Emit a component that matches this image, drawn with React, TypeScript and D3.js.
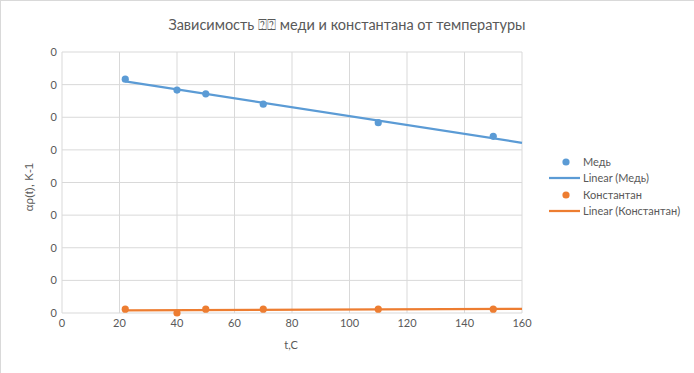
import React from "react";
import * as d3 from "d3";

const temperatures = [22, 40, 50, 70, 110, 150];
const copperAlpha = [0.0043, 0.0041, 0.00403, 0.00384, 0.0035, 0.00325];
const constantanAlpha = [0.00007, 0.0, 0.00007, 0.00007, 0.00007, 0.00007];
const xTicks = [0, 20, 40, 60, 80, 100, 120, 140, 160];
const yTicks = [0, 0.0006, 0.0012, 0.0018, 0.0024, 0.003, 0.0036, 0.0042, 0.0048];
const seriesNames = ["Медь", "Константан"];
const titleText = "Зависимость ⍰⍰ меди и константана от температуры";
const xLabel = "t,C";
const yLabel = "αρ(t), K-1";

const W = 694;
const H = 373;
const FONT = "Lato, 'Open Sans', sans-serif";
const TXT = "#595959";
const GRID = "#d9d9d9";
const COLORS = ["#5b9bd5", "#ed7d31"];

function fit(xs: number[], ys: number[]) {
  const n = xs.length;
  const mx = d3.mean(xs)!;
  const my = d3.mean(ys)!;
  let sxy = 0, sxx = 0;
  for (let i = 0; i < n; i++) {
    sxy += (xs[i] - mx) * (ys[i] - my);
    sxx += (xs[i] - mx) * (xs[i] - mx);
  }
  const b = sxy / sxx;
  return { a: my - b * mx, b };
}

export default function App() {
  const x = d3.scaleLinear().domain([0, 160]).range([62, 522]);
  const y = d3.scaleLinear().domain([0, 0.0048]).range([313, 52]);
  const fmt = d3.format(".0f");
  const series = [copperAlpha, constantanAlpha];

  return (
    <div style={{ position: "absolute", left: 0, top: 0 }}>
      <svg width={W} height={H} style={{ display: "block", fontFamily: FONT }}>
        <rect x={0.5} y={0.5} width={W + 10} height={H + 10} fill="#fff" stroke={GRID} />
        <text x={347} y={30} textAnchor="middle" fontSize={14.5} fill={TXT}>{titleText}</text>
        {yTicks.map((t, i) => (
          <g key={"y" + i}>
            <line x1={62} x2={522} y1={y(t)} y2={y(t)} stroke={GRID} strokeWidth={1} />
            <text x={57} y={y(t) + 4} textAnchor="end" fontSize={11} fill={TXT}>{fmt(t)}</text>
          </g>
        ))}
        {xTicks.map((t, i) => (
          <g key={"x" + i}>
            <line x1={x(t)} x2={x(t)} y1={52} y2={313} stroke={GRID} strokeWidth={1} />
            <text x={x(t)} y={327} textAnchor="middle" fontSize={11} fill={TXT}>{t}</text>
          </g>
        ))}
        <text x={291} y={349} textAnchor="middle" fontSize={11} fill={TXT}>{xLabel}</text>
        <text transform={`translate(33,${187}) rotate(-90)`} textAnchor="middle" fontSize={11.5} fill={TXT} fontFamily="'Liberation Sans', Arial, sans-serif">{yLabel}</text>
        {series.map((vals, si) => {
          const { a, b } = fit(temperatures, vals);
          const x0 = temperatures[0];
          const x1 = 160;
          return (
            <g key={"s" + si}>
              <line x1={x(x0)} y1={y(a + b * x0)} x2={x(x1)} y2={y(a + b * x1)} stroke={COLORS[si]} strokeWidth={2.25} />
              {vals.map((v, i) => (
                <circle key={i} cx={x(temperatures[i])} cy={y(v)} r={3.6} fill={COLORS[si]} />
              ))}
            </g>
          );
        })}
        {seriesNames.map((name, si) => (
          <g key={"l" + si} transform={`translate(0,${si * 33})`}>
            <circle cx={566} cy={162} r={3.6} fill={COLORS[si]} />
            <text x={583} y={166} fontSize={11} fill={TXT}>{name}</text>
            <line x1={549} x2={580} y1={178} y2={178} stroke={COLORS[si]} strokeWidth={2.25} />
            <text x={583} y={182} fontSize={11} fill={TXT}>{`Linear (${name})`}</text>
          </g>
        ))}
      </svg>
    </div>
  );
}
